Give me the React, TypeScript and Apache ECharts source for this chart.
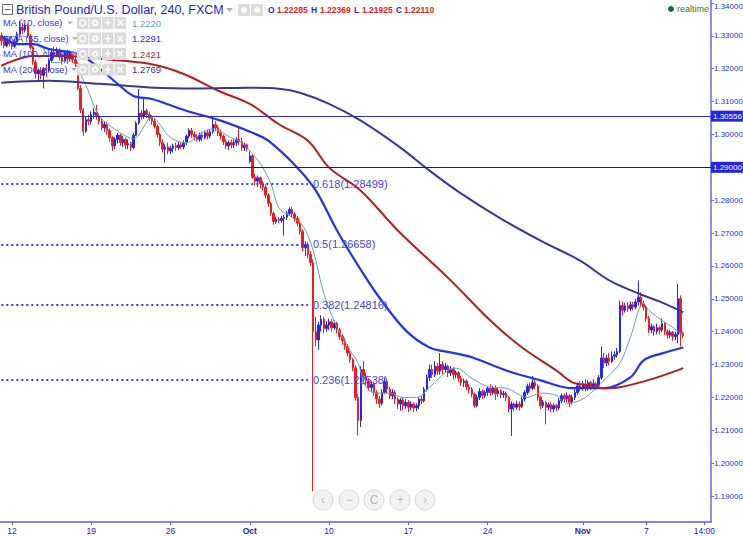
import React, { useEffect, useRef } from "react";
import * as echarts from "echarts";

// [open, close, low, high] per 4-hour bar, Sep 9 - Nov 9
const candles: number[][] = [
  [1.3300, 1.3285, 1.3270, 1.3310], [1.3285, 1.3270, 1.3262, 1.3295], [1.3270, 1.3290, 1.3265, 1.3300], [1.3290, 1.3275, 1.3268, 1.3298],
  [1.3275, 1.3268, 1.3258, 1.3285], [1.3268, 1.3282, 1.3262, 1.3290], [1.3282, 1.3305, 1.3278, 1.3312], [1.3305, 1.3325, 1.3298, 1.3345], [1.3325, 1.3318, 1.3305, 1.3340], [1.3318, 1.3330, 1.3310, 1.3338],
  [1.3330, 1.3300, 1.3295, 1.3338], [1.3300, 1.3265, 1.3258, 1.3305], [1.3265, 1.3220, 1.3212, 1.3270], [1.3220, 1.3185, 1.3170, 1.3228], [1.3185, 1.3195, 1.3165, 1.3200], [1.3195, 1.3180, 1.3168, 1.3205],
  [1.3180, 1.3200, 1.3140, 1.3205], [1.3200, 1.3195, 1.3175, 1.3215], [1.3195, 1.3225, 1.3190, 1.3232], [1.3225, 1.3250, 1.3218, 1.3262], [1.3250, 1.3240, 1.3230, 1.3268], [1.3240, 1.3255, 1.3235, 1.3265],
  [1.3255, 1.3235, 1.3225, 1.3262], [1.3235, 1.3222, 1.3212, 1.3245], [1.3222, 1.3248, 1.3218, 1.3252], [1.3248, 1.3230, 1.3215, 1.3258], [1.3230, 1.3245, 1.3222, 1.3255], [1.3245, 1.3228, 1.3218, 1.3252],
  [1.3228, 1.3215, 1.3205, 1.3240], [1.3215, 1.3140, 1.3135, 1.3220], [1.3140, 1.3075, 1.3065, 1.3150], [1.3075, 1.3010, 1.2995, 1.3080], [1.3010, 1.3045, 1.3005, 1.3055], [1.3045, 1.3040, 1.3028, 1.3060],
  [1.3040, 1.3060, 1.3030, 1.3070], [1.3060, 1.3068, 1.3048, 1.3080], [1.3068, 1.3055, 1.3045, 1.3090], [1.3055, 1.3040, 1.3030, 1.3065], [1.3040, 1.3020, 1.3012, 1.3048], [1.3020, 1.3030, 1.3008, 1.3038],
  [1.3030, 1.3012, 1.3000, 1.3038], [1.3012, 1.2990, 1.2978, 1.3018], [1.2990, 1.2965, 1.2950, 1.2995], [1.2965, 1.2985, 1.2955, 1.2992], [1.2985, 1.2998, 1.2972, 1.3005], [1.2998, 1.2975, 1.2965, 1.3002],
  [1.2975, 1.2985, 1.2962, 1.2995], [1.2985, 1.2968, 1.2955, 1.2990], [1.2968, 1.2972, 1.2955, 1.2985], [1.2972, 1.2960, 1.2950, 1.2978], [1.2960, 1.2998, 1.2955, 1.3005], [1.2998, 1.3035, 1.2995, 1.3040],
  [1.3035, 1.3065, 1.3030, 1.3138], [1.3065, 1.3055, 1.3045, 1.3075], [1.3055, 1.3072, 1.3048, 1.3108], [1.3072, 1.3060, 1.3050, 1.3078], [1.3060, 1.3050, 1.3040, 1.3068], [1.3050, 1.3040, 1.3030, 1.3058],
  [1.3040, 1.3025, 1.3018, 1.3048], [1.3025, 1.3000, 1.2990, 1.3030], [1.3000, 1.2975, 1.2965, 1.3005], [1.2975, 1.2955, 1.2945, 1.2985], [1.2955, 1.2962, 1.2915, 1.2970], [1.2962, 1.2950, 1.2940, 1.2975],
  [1.2950, 1.2958, 1.2940, 1.2965], [1.2958, 1.2965, 1.2945, 1.2972], [1.2965, 1.2960, 1.2950, 1.2975], [1.2960, 1.2968, 1.2952, 1.2978], [1.2968, 1.2962, 1.2955, 1.2975], [1.2962, 1.2975, 1.2955, 1.2982],
  [1.2975, 1.2995, 1.2968, 1.3000], [1.2995, 1.3012, 1.2988, 1.3018], [1.3012, 1.3000, 1.2990, 1.3020], [1.3000, 1.2992, 1.2982, 1.3008], [1.2992, 1.2985, 1.2978, 1.3000], [1.2985, 1.2998, 1.2978, 1.3005],
  [1.2998, 1.2990, 1.2980, 1.3008], [1.2990, 1.3005, 1.2985, 1.3012], [1.3005, 1.2995, 1.2985, 1.3015], [1.2995, 1.3008, 1.2988, 1.3015], [1.3008, 1.3030, 1.3002, 1.3050], [1.3030, 1.3020, 1.3010, 1.3040],
  [1.3020, 1.3005, 1.2995, 1.3028], [1.3005, 1.2995, 1.2985, 1.3015], [1.2995, 1.2978, 1.2968, 1.3000], [1.2978, 1.2965, 1.2955, 1.2985], [1.2965, 1.2975, 1.2952, 1.2982], [1.2975, 1.2968, 1.2958, 1.2985],
  [1.2968, 1.2975, 1.2958, 1.2985], [1.2975, 1.2985, 1.2965, 1.2992], [1.2985, 1.2978, 1.2968, 1.3020], [1.2978, 1.2960, 1.2950, 1.2990], [1.2960, 1.2968, 1.2950, 1.2975], [1.2968, 1.2958, 1.2948, 1.2972],
  [1.2918, 1.2935, 1.2912, 1.2948], [1.2935, 1.2870, 1.2865, 1.2940], [1.2870, 1.2858, 1.2845, 1.2880], [1.2858, 1.2868, 1.2840, 1.2875], [1.2868, 1.2850, 1.2835, 1.2872], [1.2850, 1.2840, 1.2830, 1.2858],
  [1.2840, 1.2815, 1.2805, 1.2848], [1.2815, 1.2790, 1.2780, 1.2822], [1.2790, 1.2760, 1.2752, 1.2795], [1.2760, 1.2735, 1.2725, 1.2765], [1.2735, 1.2742, 1.2728, 1.2750], [1.2742, 1.2738, 1.2730, 1.2748],
  [1.2738, 1.2745, 1.2732, 1.2752], [1.2745, 1.2748, 1.2692, 1.2755], [1.2748, 1.2760, 1.2740, 1.2768], [1.2760, 1.2772, 1.2752, 1.2778], [1.2772, 1.2758, 1.2748, 1.2780], [1.2758, 1.2745, 1.2735, 1.2765],
  [1.2745, 1.2730, 1.2720, 1.2752], [1.2730, 1.2705, 1.2695, 1.2738], [1.2705, 1.2655, 1.2645, 1.2712], [1.2655, 1.2665, 1.2630, 1.2675], [1.2665, 1.2635, 1.2622, 1.2672], [1.2635, 1.2610, 1.2600, 1.2645],
  [1.2610, 1.2400, 1.1915, 1.2620], [1.2400, 1.2375, 1.2355, 1.2445], [1.2375, 1.2420, 1.2345, 1.2430], [1.2420, 1.2438, 1.2400, 1.2450], [1.2438, 1.2410, 1.2395, 1.2445], [1.2410, 1.2420, 1.2400, 1.2432],
  [1.2420, 1.2430, 1.2405, 1.2440], [1.2430, 1.2412, 1.2400, 1.2438], [1.2412, 1.2425, 1.2405, 1.2435], [1.2425, 1.2405, 1.2395, 1.2430], [1.2405, 1.2385, 1.2375, 1.2412], [1.2385, 1.2372, 1.2360, 1.2392],
  [1.2372, 1.2355, 1.2345, 1.2380], [1.2355, 1.2335, 1.2325, 1.2362], [1.2335, 1.2315, 1.2305, 1.2342], [1.2315, 1.2290, 1.2280, 1.2320], [1.2290, 1.2200, 1.2190, 1.2298], [1.2200, 1.2130, 1.2085, 1.2210],
  [1.2130, 1.2285, 1.2110, 1.2295], [1.2285, 1.2265, 1.2240, 1.2310], [1.2265, 1.2250, 1.2235, 1.2275], [1.2250, 1.2230, 1.2220, 1.2258], [1.2230, 1.2240, 1.2215, 1.2248], [1.2240, 1.2215, 1.2205, 1.2245],
  [1.2215, 1.2195, 1.2180, 1.2222], [1.2195, 1.2182, 1.2168, 1.2205], [1.2182, 1.2215, 1.2175, 1.2225], [1.2215, 1.2248, 1.2210, 1.2260], [1.2248, 1.2225, 1.2212, 1.2255], [1.2225, 1.2205, 1.2195, 1.2232],
  [1.2205, 1.2215, 1.2195, 1.2225], [1.2215, 1.2195, 1.2180, 1.2222], [1.2195, 1.2180, 1.2165, 1.2200], [1.2180, 1.2192, 1.2160, 1.2198], [1.2192, 1.2175, 1.2160, 1.2200], [1.2175, 1.2185, 1.2165, 1.2195],
  [1.2185, 1.2170, 1.2155, 1.2192], [1.2170, 1.2180, 1.2160, 1.2188], [1.2180, 1.2168, 1.2155, 1.2185], [1.2168, 1.2175, 1.2158, 1.2182], [1.2175, 1.2195, 1.2165, 1.2200], [1.2195, 1.2190, 1.2180, 1.2205],
  [1.2190, 1.2225, 1.2185, 1.2232], [1.2225, 1.2260, 1.2218, 1.2270], [1.2260, 1.2285, 1.2250, 1.2300], [1.2285, 1.2270, 1.2260, 1.2300], [1.2270, 1.2295, 1.2262, 1.2310], [1.2295, 1.2280, 1.2268, 1.2305],
  [1.2280, 1.2300, 1.2270, 1.2335], [1.2300, 1.2285, 1.2270, 1.2310], [1.2285, 1.2295, 1.2275, 1.2305], [1.2295, 1.2275, 1.2262, 1.2300], [1.2275, 1.2285, 1.2265, 1.2295], [1.2285, 1.2270, 1.2255, 1.2292],
  [1.2270, 1.2275, 1.2258, 1.2282], [1.2275, 1.2258, 1.2248, 1.2280], [1.2258, 1.2245, 1.2235, 1.2265], [1.2245, 1.2250, 1.2232, 1.2258], [1.2250, 1.2232, 1.2222, 1.2255], [1.2232, 1.2225, 1.2212, 1.2240],
  [1.2225, 1.2210, 1.2200, 1.2232], [1.2210, 1.2175, 1.2168, 1.2215], [1.2175, 1.2200, 1.2170, 1.2208], [1.2200, 1.2218, 1.2192, 1.2228], [1.2218, 1.2205, 1.2195, 1.2225], [1.2205, 1.2215, 1.2198, 1.2222],
  [1.2215, 1.2228, 1.2205, 1.2235], [1.2228, 1.2215, 1.2205, 1.2240], [1.2215, 1.2228, 1.2208, 1.2235], [1.2228, 1.2211, 1.2193, 1.2237], [1.2211, 1.2220, 1.2202, 1.2228], [1.2220, 1.2208, 1.2198, 1.2225],
  [1.2208, 1.2212, 1.2198, 1.2220], [1.2212, 1.2200, 1.2188, 1.2218], [1.2200, 1.2165, 1.2155, 1.2205], [1.2165, 1.2180, 1.2083, 1.2188], [1.2180, 1.2170, 1.2158, 1.2185], [1.2170, 1.2180, 1.2162, 1.2190],
  [1.2180, 1.2172, 1.2160, 1.2188], [1.2172, 1.2195, 1.2168, 1.2202], [1.2195, 1.2215, 1.2188, 1.2222], [1.2215, 1.2235, 1.2208, 1.2242], [1.2235, 1.2228, 1.2218, 1.2245], [1.2228, 1.2245, 1.2222, 1.2265],
  [1.2245, 1.2235, 1.2225, 1.2255], [1.2235, 1.2200, 1.2190, 1.2240], [1.2200, 1.2175, 1.2165, 1.2205], [1.2175, 1.2185, 1.2168, 1.2192], [1.2185, 1.2170, 1.2118, 1.2190], [1.2170, 1.2178, 1.2160, 1.2185],
  [1.2178, 1.2165, 1.2155, 1.2185], [1.2165, 1.2175, 1.2155, 1.2182], [1.2175, 1.2168, 1.2158, 1.2180], [1.2168, 1.2190, 1.2162, 1.2198], [1.2190, 1.2205, 1.2182, 1.2212], [1.2205, 1.2195, 1.2185, 1.2212],
  [1.2195, 1.2205, 1.2185, 1.2215], [1.2205, 1.2185, 1.2170, 1.2210], [1.2185, 1.2200, 1.2178, 1.2208], [1.2200, 1.2215, 1.2192, 1.2225], [1.2215, 1.2235, 1.2208, 1.2245], [1.2235, 1.2228, 1.2218, 1.2250],
  [1.2228, 1.2240, 1.2220, 1.2250], [1.2240, 1.2228, 1.2218, 1.2255], [1.2228, 1.2245, 1.2220, 1.2252], [1.2245, 1.2232, 1.2222, 1.2250], [1.2232, 1.2242, 1.2225, 1.2255], [1.2242, 1.2235, 1.2225, 1.2248],
  [1.2235, 1.2260, 1.2228, 1.2268], [1.2260, 1.2320, 1.2255, 1.2355], [1.2320, 1.2305, 1.2290, 1.2335], [1.2305, 1.2320, 1.2295, 1.2330], [1.2320, 1.2310, 1.2298, 1.2335], [1.2310, 1.2325, 1.2305, 1.2340],
  [1.2325, 1.2330, 1.2315, 1.2340], [1.2330, 1.2340, 1.2322, 1.2350], [1.2340, 1.2480, 1.2335, 1.2495], [1.2480, 1.2465, 1.2450, 1.2492], [1.2465, 1.2478, 1.2458, 1.2488], [1.2478, 1.2470, 1.2460, 1.2490],
  [1.2470, 1.2482, 1.2462, 1.2492], [1.2482, 1.2475, 1.2465, 1.2490], [1.2475, 1.2490, 1.2468, 1.2500], [1.2490, 1.2505, 1.2480, 1.2555], [1.2505, 1.2485, 1.2475, 1.2520], [1.2485, 1.2475, 1.2465, 1.2495],
  [1.2475, 1.2440, 1.2430, 1.2480], [1.2440, 1.2405, 1.2395, 1.2448], [1.2405, 1.2415, 1.2395, 1.2425], [1.2415, 1.2400, 1.2388, 1.2420], [1.2400, 1.2412, 1.2392, 1.2425], [1.2412, 1.2405, 1.2392, 1.2418],
  [1.2405, 1.2425, 1.2398, 1.2440], [1.2425, 1.2400, 1.2390, 1.2430], [1.2400, 1.2390, 1.2378, 1.2408], [1.2390, 1.2398, 1.2380, 1.2405], [1.2398, 1.2385, 1.2372, 1.2402], [1.2385, 1.2392, 1.2375, 1.2400],
  [1.2392, 1.2500, 1.2365, 1.2545], [1.2500, 1.2395, 1.2355, 1.2510], [1.2395, 1.2387, 1.2380, 1.2400],
];

// moving averages: [bar index, value]
const ma10: number[][] = [
  [0, 1.3291], [7, 1.3300], [15, 1.3269], [20, 1.3218], [26, 1.3224], [32, 1.3148], [37, 1.3057], [45, 1.3005], [50, 1.2987],
  [57, 1.3051], [64, 1.2990], [70, 1.2975], [76, 1.3005], [80, 1.3017], [87, 1.2990], [91, 1.2975], [95, 1.2941], [98, 1.2911],
  [102, 1.2850], [105, 1.2777], [109, 1.2753], [114, 1.2723], [118, 1.2647], [122, 1.2516], [127, 1.2413], [132, 1.2343],
  [135, 1.2304], [138, 1.2231], [142, 1.2213], [147, 1.2213], [152, 1.2200], [157, 1.2200], [162, 1.2231], [169, 1.2282],
  [172, 1.2289], [178, 1.2258], [185, 1.2231], [191, 1.2228], [199, 1.2200], [204, 1.2213], [210, 1.2206], [214, 1.2182],
  [219, 1.2191], [223, 1.2213], [228, 1.2252], [234, 1.2304], [238, 1.2383], [243, 1.2486], [245, 1.2465], [250, 1.2434],
  [254, 1.2413], [258, 1.2389],
];
const ema55: number[][] = [
  [0, 1.3300], [6, 1.3275], [12, 1.3275], [18, 1.3260], [29, 1.3245], [35, 1.3215], [44, 1.3154], [50, 1.3117], [57, 1.3108],
  [70, 1.3072], [83, 1.3042], [95, 1.3005], [101, 1.2981], [112, 1.2899], [119, 1.2829], [127, 1.2708], [135, 1.2601],
  [143, 1.2504], [153, 1.2404], [162, 1.2352], [170, 1.2337], [178, 1.2322], [191, 1.2282], [204, 1.2252], [216, 1.2228],
  [228, 1.2228], [238, 1.2261], [243, 1.2313], [250, 1.2334], [258, 1.2352],
];
const ma100: number[][] = [
  [0, 1.3209], [12, 1.3239], [25, 1.3239], [37, 1.3230], [56, 1.3215], [69, 1.3184], [82, 1.3133], [94, 1.3093], [105, 1.3031],
  [116, 1.2981], [124, 1.2899], [136, 1.2829], [150, 1.2708], [170, 1.2556], [185, 1.2434], [197, 1.2352], [210, 1.2282],
  [216, 1.2246], [223, 1.2237], [228, 1.2228], [234, 1.2231], [247, 1.2258], [258, 1.2289],
];
const ma200: number[][] = [
  [0, 1.3157], [18, 1.3163], [37, 1.3154], [56, 1.3143], [75, 1.3140], [94, 1.3142], [105, 1.3139], [113, 1.3127], [124, 1.3093],
  [136, 1.3042], [151, 1.2960], [162, 1.2890], [174, 1.2820], [189, 1.2744], [204, 1.2677], [219, 1.2616], [230, 1.2556],
  [242, 1.2513], [249, 1.2492], [258, 1.2459],
];

const barCount = 269;
const categories = Array.from({ length: barCount }, (_, i) => String(i));
const tickBars = [4, 34, 64, 94, 124, 154, 184, 220, 244, 266];
const tickLabels = ["12", "19", "26", "Oct", "10", "17", "24", "Nov", "7", "14:00"];
const priceTicks = [1.19, 1.2, 1.21, 1.22, 1.23, 1.24, 1.25, 1.26, 1.27, 1.28, 1.29, 1.3, 1.31, 1.32, 1.33, 1.34];
// 1.29000 label is covered by the level box in the reference
const priceLabels = [1.19, 1.2, 1.21, 1.22, 1.23, 1.24, 1.25, 1.26, 1.27, 1.28, 1.3, 1.31, 1.32, 1.33, 1.34];
const fibRatios = ["0.618", "0.5", "0.382", "0.236"];
const fibPrices = [1.28499, 1.26658, 1.24816, 1.22538];
const fibEndBar = 116;
const levelPrices = [1.30556, 1.29];
const levelColors = ["#2e2ecc", "#1c1c66"];
const lastPrice = 1.23866;
const legendNames = ["MA (10, close)", "EMA (55, close)", "MA (100, close)", "MA (200, close)"];
const legendValues = ["1.2220", "1.2291", "1.2421", "1.2769"];
const ohlcKeys = ["O", "H", "L", "C"];
const ohlcValues = ["1.22285", "1.22369", "1.21925", "1.22110"];

const FONT = "'Liberation Sans', Arial, sans-serif";
const UP = "#2626f2";
const DOWN = "#f01c1c";
const C_MA10 = "#62a3b8";
const C_EMA = "#2233e8";
const C_MA100 = "#b41e1e";
const C_MA200 = "#363a92";
const AXIS_TEXT = "#2e2ed6";
const legendColors = [C_MA10, "#2a2ae6", "#c0282a", "#343494"];

function buildGraphic() {
  const g: any[] = [];
  // header
  g.push({ type: "rect", shape: { x: 2.5, y: 4.5, width: 10, height: 10 }, style: { fill: "#fff", stroke: "#666", lineWidth: 1 }, z: 100 });
  g.push({ type: "line", shape: { x1: 4.5, y1: 9.5, x2: 10.5, y2: 9.5 }, style: { stroke: "#666", lineWidth: 1 }, z: 100 });
  g.push({ type: "text", x: 16, y: 10, style: { text: "British Pound/U.S. Dollar, 240, FXCM", fill: "#2121d0", fontSize: 12.5, fontFamily: FONT, verticalAlign: "middle" }, z: 100 });
  g.push({ type: "polygon", shape: { points: [[226, 8], [233, 8], [229.5, 12]] }, style: { fill: "#b0b0b0" }, z: 100 });
  [238, 251].forEach((x) => {
    g.push({ type: "rect", shape: { x, y: 4, width: 12, height: 12 }, style: { fill: "#dcdcdc" }, z: 100 });
    g.push({ type: "circle", shape: { cx: x + 6, cy: 10, r: 3 }, style: { fill: "#fff" }, z: 101 });
  });
  const keyX = [268, 311, 354, 396];
  const valX = [277, 320, 362, 404];
  ohlcKeys.forEach((k, i) => {
    g.push({ type: "text", x: keyX[i], y: 10, style: { text: k, fill: "#2a2ad0", fontSize: 8.5, fontWeight: "bold", fontFamily: FONT, verticalAlign: "middle" }, z: 100 });
    g.push({ type: "text", x: valX[i], y: 10, style: { text: ohlcValues[i], fill: "#e42020", fontSize: 8.5, fontWeight: "bold", fontFamily: FONT, verticalAlign: "middle" }, z: 100 });
  });
  g.push({ type: "circle", shape: { cx: 671, cy: 9, r: 3 }, style: { fill: "#1e6b30" }, z: 100 });
  g.push({ type: "text", x: 677, y: 9, style: { text: "realtime", fill: "#2d7a3a", fontSize: 9, fontFamily: FONT, verticalAlign: "middle" }, z: 100 });

  // legend rows
  const rowY = [23, 38.5, 54, 69.5];
  const arrowX = [67, 72, 71, 71];
  legendNames.forEach((name, r) => {
    const y = rowY[r];
    g.push({ type: "text", x: 3, y, style: { text: name, fill: "#3434d4", fontSize: 9.3, fontFamily: FONT, verticalAlign: "middle" }, z: 100 });
    g.push({ type: "polygon", shape: { points: [[arrowX[r], y - 1.5], [arrowX[r] + 6, y - 1.5], [arrowX[r] + 3, y + 1.5]] }, style: { fill: "#b0b0b0" }, z: 100 });
    const glyphs = ["", "", "+", "\u00d7"];
    for (let k = 0; k < 4; k++) {
      const bx = 77 + k * 12.5;
      g.push({ type: "rect", shape: { x: bx, y: y - 6, width: 11.5, height: 12 }, style: { fill: "#dadada" }, z: 100 });
      if (k === 0) {
        g.push({ type: "circle", shape: { cx: bx + 5.75, cy: y, r: 3 }, style: { fill: "none", stroke: "#fff", lineWidth: 1.3 }, z: 101 });
      } else if (k === 1) {
        g.push({ type: "circle", shape: { cx: bx + 5.75, cy: y, r: 3.3 }, style: { fill: "#fff" }, z: 101 });
        g.push({ type: "circle", shape: { cx: bx + 5.75, cy: y, r: 1.3 }, style: { fill: "#dadada" }, z: 102 });
      } else {
        g.push({ type: "text", x: bx + 5.75, y, style: { text: glyphs[k], fill: "#fff", fontSize: 12, fontWeight: "bold", fontFamily: FONT, align: "center", verticalAlign: "middle" }, z: 101 });
      }
    }
    g.push({ type: "text", x: 132, y, style: { text: legendValues[r], fill: legendColors[r], fontSize: 9.5, fontFamily: FONT, verticalAlign: "middle" }, z: 100 });
  });

  // navigation buttons
  const navX = [323, 349, 374, 400, 425];
  const navGlyph = ["\u2039", "\u2212", "C", "+", "\u203a"];
  navX.forEach((cx, i) => {
    g.push({ type: "circle", shape: { cx, cy: 500, r: 10 }, style: { fill: "#f2f2f2", stroke: "#d6d6d6", lineWidth: 1 }, z: 100 });
    g.push({ type: "text", x: cx, y: 500, style: { text: navGlyph[i], fill: "#b5b5b5", fontSize: 12, fontFamily: FONT, align: "center", verticalAlign: "middle" }, z: 101 });
  });
  return g;
}

export default function App() {
  const ref = useRef<HTMLDivElement>(null);
  useEffect(() => {
    if (!ref.current) return;
    const chart = echarts.init(ref.current, undefined, { renderer: "svg" });

    const levelLines = levelPrices.map((p, i) => ({
      yAxis: p,
      lineStyle: { color: levelColors[i], width: 1, type: "solid" },
      label: {
        show: true, position: "end", distance: 0, formatter: p.toFixed(5),
        backgroundColor: "#2424e6", color: "#fff", padding: [2, 1, 1, 2], fontSize: 8, fontFamily: FONT,
      },
    }));
    const lastLine = {
      yAxis: lastPrice,
      lineStyle: { opacity: 0, width: 0 },
      label: {
        show: true, position: "end", distance: 0, formatter: lastPrice.toFixed(5),
        backgroundColor: "#ff2020", color: "#fff", padding: [2, 1, 1, 2], fontSize: 8, fontFamily: FONT,
      },
    };
    const fibLines = fibPrices.map((p, i) => [
      {
        coord: [0, p],
        lineStyle: { color: "#3a3aee", width: 2, type: [2, 3] },
        label: { show: true, position: "end", distance: 5, formatter: `${fibRatios[i]}(${p.toFixed(5)})`, color: "#4444e0", fontSize: 11, fontFamily: FONT },
      },
      { coord: [fibEndBar, p] },
    ]);

    const lineSeries = (name: string, data: number[][], color: string, width: number, extra: any = {}) => ({
      name, type: "line", data, symbol: "none", smooth: 0.35, silent: true,
      lineStyle: { color, width }, z: 3, ...extra,
    });

    const topTick = priceTicks[priceTicks.length - 1];

    chart.setOption({
      animation: false,
      backgroundColor: "#ffffff",
      grid: { left: 0, right: 32, top: 0, bottom: 14, containLabel: false, outerBoundsMode: "none" },
      xAxis: {
        type: "category",
        data: categories,
        boundaryGap: true,
        axisLine: { show: true, lineStyle: { color: "#5b5bf2", width: 1.5 } },
        axisTick: {
          show: true, length: 3, alignWithLabel: true,
          interval: (idx: number) => tickBars.includes(idx),
          lineStyle: { color: "#5b5bf2" },
        },
        axisLabel: {
          interval: (idx: number) => tickBars.includes(idx),
          formatter: (_v: string, idx: number) => {
            const k = tickBars.indexOf(idx);
            if (k < 0) return "";
            const t = tickLabels[k];
            return t === "Oct" || t === "Nov" ? `{b|${t}}` : t;
          },
          rich: { b: { fontWeight: "bold", fontSize: 8.5, color: "#2222c8", fontFamily: FONT } },
          color: "#2222c8", fontSize: 8.5, fontFamily: FONT, margin: 4,
        },
        splitLine: { show: false },
      },
      yAxis: {
        type: "value",
        position: "right",
        min: 1.1821,
        max: 1.3409,
        axisLine: { show: true, lineStyle: { color: "#6666f2", width: 1.5 } },
        axisTick: { show: true, length: 3, customValues: priceTicks, lineStyle: { color: "#6666f2" } },
        axisLabel: {
          customValues: priceLabels,
          formatter: (v: number) => (Math.abs(v - topTick) < 1e-9 ? `{t|${v.toFixed(5)}}` : v.toFixed(5)),
          rich: { t: { padding: [8, 0, 0, 0], fontSize: 8, color: AXIS_TEXT, fontFamily: FONT } },
          color: AXIS_TEXT, fontSize: 8, fontFamily: FONT, margin: 3,
        },
        splitLine: { show: false },
      },
      graphic: buildGraphic(),
      series: [
        {
          name: "GBPUSD", type: "candlestick", data: candles, barWidth: "75%", silent: true,
          itemStyle: { color: UP, color0: DOWN, borderColor: UP, borderColor0: DOWN, borderWidth: 1 },
          z: 2,
        },
        lineSeries("MA10", ma10, C_MA10, 1),
        lineSeries("EMA55", ema55, C_EMA, 2.2),
        lineSeries("MA100", ma100, C_MA100, 2),
        lineSeries("MA200", ma200, C_MA200, 2, {
          markLine: {
            silent: true, symbol: "none", animation: false, precision: 5,
            data: [...levelLines, lastLine, ...fibLines],
          },
        }),
      ],
    });
    return () => chart.dispose();
  }, []);
  return (
    <div
      ref={ref}
      style={{ position: "fixed", left: 0, top: 0, width: 743, height: 536, background: "#fff" }}
    />
  );
}
